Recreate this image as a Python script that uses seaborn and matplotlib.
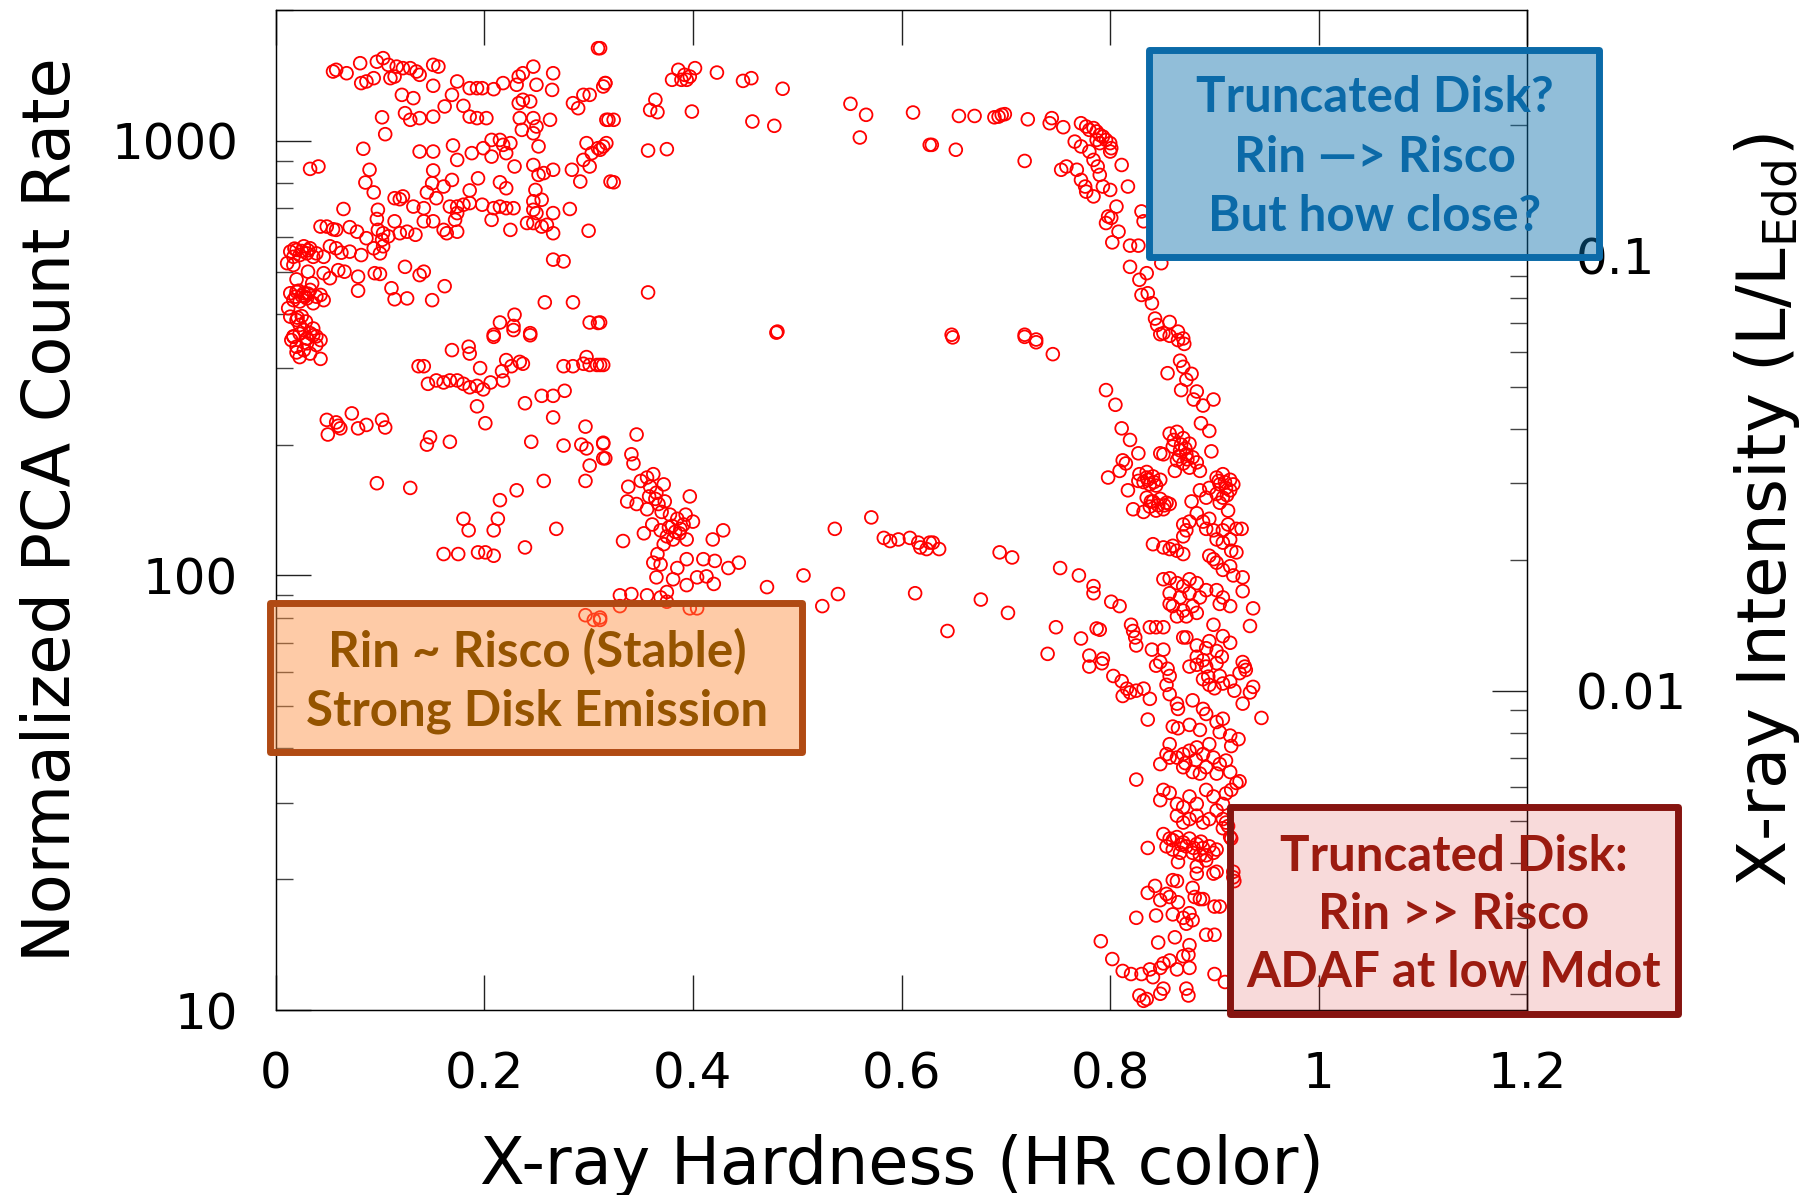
import numpy as np
import pandas as pd
import seaborn as sns
import matplotlib.pyplot as plt
from matplotlib.patches import Rectangle
from matplotlib.ticker import FixedLocator, LogLocator, NullFormatter

sns.set_style("white")
plt.rcParams['font.family'] = ['DejaVu Sans']
plt.rcParams['mathtext.fontset'] = 'dejavusans'
plt.rcParams['text.color'] = 'black'
plt.rcParams['axes.labelcolor'] = 'black'
plt.rcParams['xtick.labelcolor'] = 'black'
plt.rcParams['ytick.labelcolor'] = 'black'

# (hardness ratio, normalized PCA count rate)
soft_top = [
    (0.055, 1444), (0.058, 1457), (0.068, 1431), (0.081, 1509), (0.082, 1358), (0.087, 1370),
    (0.094, 1394), (0.097, 1521), (0.103, 1550), (0.108, 1496), (0.110, 1394), (0.114, 1406),
    (0.116, 1482), (0.122, 1470), (0.129, 1470), (0.135, 1444), (0.138, 1419), (0.151, 1496),
    (0.156, 1482), (0.151, 1339), (0.169, 1276), (0.174, 1370), (0.186, 1322), (0.193, 1322),
    (0.198, 1322), (0.209, 1315), (0.218, 1358), (0.231, 1346), (0.233, 1406), (0.237, 1431),
    (0.247, 1482), (0.250, 1346), (0.266, 1431), (0.265, 1310), (0.309, 1634), (0.316, 1358),
    (0.295, 1276), (0.301, 1276), (0.285, 1221), (0.290, 1189), (0.317, 1118), (0.121, 1276),
    (0.132, 1254), (0.124, 1158), (0.129, 1118), (0.138, 1128), (0.151, 1137), (0.102, 1133),
    (0.105, 1036), (0.162, 1200), (0.180, 1204), (0.186, 1137), (0.193, 1128), (0.202, 1128),
    (0.233, 1221), (0.237, 1243), (0.244, 1232), (0.234, 1128), (0.247, 1128), (0.250, 1079),
    (0.263, 1118), (0.236, 1060), (0.247, 1041), (0.252, 971), (0.084, 959), (0.138, 945),
    (0.151, 945), (0.170, 976), (0.174, 904), (0.188, 937), (0.199, 962), (0.207, 1005),
    (0.215, 1005), (0.218, 979), (0.225, 988), (0.207, 920), (0.221, 937), (0.033, 862),
    (0.041, 873), (0.090, 858), (0.086, 802), (0.094, 761), (0.151, 855), (0.150, 799),
    (0.161, 785), (0.169, 813), (0.186, 769), (0.194, 820), (0.215, 803), (0.221, 778),
    (0.229, 873), (0.247, 880), (0.252, 835), (0.257, 843), (0.266, 858), (0.284, 858),
    (0.292, 806), (0.295, 904), (0.298, 988), (0.303, 937), (0.309, 962), (0.314, 971),
    (0.301, 873), (0.321, 806),
]

soft_mid = [
    (0.114, 738), (0.119, 734), (0.122, 745), (0.132, 706), (0.142, 700), (0.145, 761),
    (0.154, 738), (0.167, 706), (0.174, 706), (0.180, 713), (0.186, 719), (0.198, 713),
    (0.209, 700), (0.215, 706), (0.221, 700), (0.228, 700), (0.249, 771), (0.247, 726),
    (0.255, 732), (0.247, 694), (0.250, 682), (0.266, 682), (0.282, 697), (0.065, 697),
    (0.098, 694), (0.043, 635), (0.049, 635), (0.055, 626), (0.058, 624), (0.071, 633),
    (0.078, 618), (0.087, 597), (0.097, 661), (0.098, 624), (0.103, 613), (0.108, 603),
    (0.114, 653), (0.119, 613), (0.126, 618), (0.134, 608), (0.142, 653), (0.151, 653),
    (0.161, 624), (0.164, 613), (0.174, 618), (0.172, 658), (0.174, 682), (0.207, 658),
    (0.225, 624), (0.241, 647), (0.247, 647), (0.255, 635), (0.260, 641), (0.266, 613),
    (0.300, 621), (0.046, 541), (0.052, 572), (0.058, 566), (0.063, 553), (0.071, 556),
    (0.082, 546), (0.094, 566), (0.100, 551), (0.102, 592), (0.103, 572), (0.031, 500),
    (0.046, 496), (0.052, 483), (0.060, 504), (0.066, 500), (0.079, 487), (0.079, 452),
    (0.095, 496), (0.100, 494), (0.111, 458), (0.114, 432), (0.124, 513), (0.126, 434),
    (0.138, 491), (0.142, 500), (0.150, 430), (0.162, 463), (0.266, 533), (0.276, 528),
    (0.258, 425), (0.285, 425), (0.215, 382), (0.229, 398), (0.228, 375), (0.244, 361),
    (0.209, 358), (0.301, 382), (0.309, 381),
]

soft_edge = [
    (0.014, 556), (0.020, 561), (0.027, 572), (0.033, 566), (0.039, 551), (0.017, 541),
    (0.023, 546), (0.030, 551), (0.036, 541), (0.011, 523), (0.017, 518), (0.020, 480),
    (0.035, 470), (0.014, 446), (0.020, 450), (0.027, 446), (0.033, 454), (0.039, 438),
    (0.017, 430), (0.023, 427), (0.030, 434), (0.036, 423), (0.043, 442), (0.046, 430),
    (0.012, 412), (0.025, 440), (0.031, 445), (0.014, 394), (0.020, 387), (0.027, 367),
    (0.033, 361), (0.039, 355), (0.017, 355), (0.023, 377), (0.030, 351), (0.036, 370),
    (0.025, 395), (0.015, 348), (0.017, 354), (0.020, 336), (0.023, 360), (0.027, 330),
    (0.030, 351), (0.033, 324), (0.036, 357), (0.039, 339), (0.043, 315), (0.023, 318),
    (0.030, 342), (0.043, 348), (0.020, 326), (0.018, 565), (0.025, 558), (0.031, 560),
    (0.022, 452), (0.028, 438), (0.019, 438), (0.021, 392), (0.029, 384),
]

soft_low = [
    (0.209, 354), (0.228, 367), (0.244, 357), (0.169, 330), (0.185, 336), (0.186, 324),
    (0.137, 303), (0.142, 303), (0.146, 276), (0.154, 281), (0.161, 278), (0.167, 281),
    (0.174, 281), (0.180, 276), (0.186, 271), (0.193, 273), (0.199, 268), (0.206, 278),
    (0.196, 300), (0.217, 295), (0.221, 313), (0.226, 303), (0.234, 310), (0.237, 307),
    (0.218, 281), (0.276, 303), (0.285, 303), (0.298, 318), (0.295, 307), (0.301, 305),
    (0.308, 305), (0.314, 305), (0.193, 245), (0.201, 224), (0.239, 249), (0.255, 259),
    (0.266, 259), (0.277, 266), (0.266, 231), (0.297, 220), (0.314, 202), (0.314, 186),
    (0.293, 200), (0.298, 196), (0.301, 179), (0.276, 199), (0.245, 203), (0.297, 165),
    (0.257, 165), (0.231, 157), (0.215, 149), (0.213, 135), (0.209, 127), (0.180, 135),
    (0.185, 127), (0.269, 128), (0.239, 116), (0.161, 112), (0.175, 112), (0.194, 113),
    (0.201, 113), (0.209, 111), (0.097, 163), (0.129, 159), (0.145, 200), (0.148, 208),
    (0.167, 203), (0.049, 228), (0.058, 225), (0.062, 218), (0.073, 236), (0.079, 218),
    (0.087, 222), (0.102, 228), (0.105, 219), (0.050, 211), (0.060, 221), (0.297, 81),
    (0.305, 79), (0.311, 79),
]

upper_arc = [
    (0.311, 1634), (0.316, 1358), (0.314, 1334), (0.319, 1118), (0.324, 1118), (0.317, 988),
    (0.311, 954), (0.324, 803), (0.364, 1243), (0.359, 1178), (0.366, 1164), (0.357, 950),
    (0.375, 957), (0.399, 1168), (0.386, 1457), (0.380, 1382), (0.389, 1382), (0.394, 1382),
    (0.397, 1406), (0.402, 1470), (0.392, 1419), (0.423, 1436), (0.448, 1374), (0.456, 1394),
    (0.486, 1318), (0.457, 1108), (0.478, 1083), (0.551, 1217), (0.566, 1148), (0.560, 1018),
    (0.611, 1162), (0.627, 979), (0.357, 448), (0.311, 382), (0.481, 364), (0.655, 1141),
    (0.670, 1141), (0.689, 1133), (0.693, 1137), (0.696, 1148), (0.699, 1152), (0.721, 1121),
    (0.629, 979), (0.652, 954), (0.718, 899), (0.744, 1128), (0.742, 1098), (0.755, 1075),
    (0.772, 1098), (0.777, 1079), (0.780, 1060), (0.784, 1070), (0.787, 1051), (0.790, 1032),
    (0.793, 1023), (0.796, 1005), (0.800, 988), (0.801, 962), (0.787, 1005), (0.790, 988),
    (0.766, 996), (0.772, 971), (0.780, 945), (0.784, 904), (0.788, 873), (0.800, 945),
    (0.811, 880), (0.753, 858), (0.758, 873), (0.768, 858), (0.772, 813), (0.776, 785),
    (0.777, 764), (0.784, 745), (0.790, 835), (0.793, 785), (0.800, 771), (0.817, 785),
    (0.806, 706), (0.798, 670), (0.801, 665), (0.796, 647), (0.808, 618), (0.802, 584),
    (0.819, 574), (0.827, 574), (0.830, 688), (0.832, 653), (0.849, 523), (0.819, 513),
    (0.828, 479), (0.835, 496), (0.836, 446), (0.830, 442), (0.840, 423), (0.843, 390),
    (0.845, 377), (0.857, 383), (0.851, 361), (0.865, 364), (0.870, 351), (0.648, 358),
    (0.718, 358), (0.729, 349),
]

transition = [
    (0.311, 305), (0.480, 362), (0.346, 211), (0.314, 201), (0.316, 186), (0.341, 190),
    (0.343, 181), (0.356, 168), (0.362, 171), (0.359, 160), (0.338, 160), (0.337, 148),
    (0.346, 146), (0.365, 155), (0.372, 162), (0.373, 148), (0.367, 146), (0.356, 142),
    (0.397, 152), (0.378, 138), (0.385, 135), (0.393, 138), (0.400, 133), (0.361, 131),
    (0.353, 125), (0.369, 127), (0.375, 123), (0.381, 121), (0.388, 128), (0.394, 121),
    (0.333, 120), (0.429, 127), (0.419, 121), (0.362, 107), (0.369, 106), (0.394, 109),
    (0.385, 104), (0.410, 109), (0.421, 108), (0.444, 107), (0.434, 104), (0.365, 99),
    (0.381, 98), (0.394, 95), (0.404, 99), (0.413, 99.5), (0.420, 95.6), (0.375, 91.6),
    (0.330, 90), (0.341, 90.6), (0.356, 90), (0.369, 89), (0.471, 94), (0.506, 100),
    (0.539, 90.6), (0.524, 85), (0.536, 128), (0.571, 136), (0.583, 122), (0.589, 120),
    (0.597, 121), (0.608, 122), (0.616, 119), (0.618, 116), (0.624, 115), (0.627, 119),
    (0.613, 91), (0.330, 85), (0.375, 87), (0.397, 84), (0.404, 84), (0.311, 80),
    (0.350, 165), (0.364, 150), (0.370, 140), (0.380, 130), (0.387, 125), (0.372, 118),
    (0.366, 112), (0.630, 119), (0.636, 115), (0.694, 113), (0.706, 110), (0.752, 104),
    (0.770, 100), (0.784, 94.5), (0.784, 91), (0.801, 87), (0.809, 85), (0.676, 88),
    (0.702, 82), (0.644, 74.5), (0.748, 76), (0.772, 71.6), (0.787, 75.5), (0.790, 75),
    (0.740, 66), (0.780, 65.4), (0.793, 64.3), (0.649, 353), (0.718, 354), (0.729, 344),
    (0.745, 323), (0.358, 152), (0.377, 129), (0.383, 126), (0.391, 131),
]

hard_upper = [
    (0.848, 359), (0.857, 356), (0.865, 348), (0.871, 341), (0.867, 312), (0.870, 302),
    (0.878, 291), (0.873, 282), (0.868, 267), (0.883, 265), (0.880, 254), (0.889, 246),
    (0.899, 254), (0.887, 224), (0.895, 215), (0.897, 193), (0.855, 292), (0.796, 267),
    (0.805, 247), (0.811, 218), (0.819, 205), (0.827, 191), (0.812, 184), (0.815, 181),
    (0.809, 174), (0.798, 168), (0.817, 157), (0.822, 142), (0.835, 173), (0.848, 191),
    (0.857, 212), (0.864, 214), (0.870, 207), (0.876, 201), (0.860, 198), (0.867, 194),
    (0.873, 190), (0.879, 187), (0.864, 184), (0.870, 181), (0.876, 177), (0.883, 182),
    (0.862, 174), (0.886, 174), (0.851, 190), (0.828, 171), (0.835, 168), (0.841, 169),
    (0.848, 166), (0.832, 164), (0.838, 162), (0.844, 161), (0.827, 165), (0.835, 151),
    (0.841, 148), (0.848, 150), (0.854, 147), (0.838, 144), (0.844, 141), (0.851, 142),
    (0.857, 146), (0.832, 140), (0.902, 168), (0.908, 171), (0.915, 166), (0.905, 162),
    (0.911, 159), (0.918, 162), (0.902, 154), (0.908, 151), (0.915, 157), (0.905, 147),
    (0.913, 141), (0.895, 159), (0.892, 151), (0.886, 157), (0.878, 148), (0.883, 139),
    (0.870, 131), (0.873, 127), (0.870, 123), (0.876, 133), (0.889, 133), (0.895, 135),
    (0.899, 127), (0.892, 128), (0.902, 121), (0.908, 127), (0.913, 131), (0.921, 128),
    (0.926, 128), (0.908, 119), (0.915, 121), (0.916, 114), (0.921, 113), (0.895, 111),
    (0.902, 107), (0.899, 109), (0.908, 103), (0.915, 105), (0.918, 100), (0.927, 99),
    (0.841, 118), (0.851, 116), (0.857, 115), (0.864, 114), (0.870, 112), (0.860, 117),
    (0.851, 98), (0.857, 98.5), (0.864, 96), (0.870, 94.5), (0.876, 98), (0.883, 96),
    (0.857, 91), (0.867, 89), (0.876, 91), (0.886, 89), (0.892, 92.5), (0.860, 85),
    (0.870, 83), (0.879, 85), (0.864, 80.5), (0.873, 80.5), (0.883, 82), (0.857, 86),
    (0.902, 92.5), (0.908, 89), (0.915, 85), (0.905, 86), (0.927, 92), (0.937, 84),
    (0.934, 76.5), (0.899, 77), (0.908, 72.5), (0.915, 70), (0.895, 70.6), (0.892, 68),
    (0.902, 67), (0.907, 65), (0.889, 63.8), (0.927, 63.2), (0.883, 65), (0.873, 72),
    (0.883, 69), (0.820, 77), (0.822, 74.5), (0.824, 72), (0.825, 69), (0.838, 76),
    (0.844, 76), (0.851, 76), (0.840, 67.5), (0.851, 67.5), (0.848, 63.2), (0.870, 72),
    (0.861, 205), (0.868, 200), (0.872, 196), (0.866, 188), (0.874, 185), (0.836, 166),
    (0.842, 164), (0.839, 148), (0.846, 145), (0.852, 145), (0.904, 165), (0.910, 164),
    (0.912, 153),
]

hard_lower = [
    (0.780, 61.7), (0.792, 62.8), (0.803, 58.7), (0.811, 57.1), (0.816, 54.9), (0.812, 52.8),
    (0.819, 53.8), (0.825, 54.3), (0.832, 54.9), (0.838, 52), (0.836, 46.6), (0.844, 62),
    (0.855, 61), (0.857, 58.7), (0.854, 56), (0.857, 53.3), (0.864, 50.7), (0.865, 49.3),
    (0.879, 51.6), (0.876, 61.7), (0.883, 62.3), (0.892, 61.7), (0.902, 62.8), (0.889, 57.7),
    (0.895, 56), (0.905, 58.7), (0.908, 56.4), (0.915, 57), (0.919, 54.3), (0.924, 59.6),
    (0.929, 61.7), (0.934, 53.8), (0.937, 55.4), (0.927, 50.7), (0.945, 47), (0.889, 49.3),
    (0.892, 48), (0.902, 46), (0.905, 43.6), (0.908, 46.8), (0.915, 42.8), (0.916, 40.5),
    (0.923, 42), (0.860, 44.9), (0.865, 44.5), (0.876, 45.3), (0.886, 44.1), (0.857, 40.9),
    (0.854, 38.8), (0.848, 36.8), (0.857, 38.1), (0.864, 38.1), (0.870, 38.8), (0.876, 39.5),
    (0.883, 40.2), (0.889, 38.8), (0.895, 40.9), (0.899, 38.1), (0.905, 36.8), (0.911, 37.5),
    (0.915, 35.3), (0.921, 33.3), (0.924, 33.6), (0.916, 32.1), (0.870, 36.2), (0.879, 35.3),
    (0.886, 35), (0.892, 36.2), (0.902, 35), (0.825, 33.9), (0.851, 32.1), (0.848, 30.4),
    (0.857, 31.6), (0.864, 29.8), (0.870, 29.3), (0.876, 31), (0.883, 29.8), (0.892, 32.1),
    (0.899, 31), (0.902, 28.8), (0.908, 29.8), (0.911, 31.5), (0.864, 28), (0.870, 27),
    (0.876, 27.5), (0.883, 28), (0.889, 27), (0.895, 27.5), (0.908, 27.5), (0.913, 26.5),
    (0.916, 24.8), (0.908, 26.2), (0.930, 60.6), (0.851, 25.4), (0.857, 24.8), (0.864, 25.0),
    (0.870, 24.3), (0.876, 24.8), (0.883, 24.1), (0.889, 23.6), (0.895, 23.8), (0.902, 23.4),
    (0.854, 23.8), (0.860, 23.4), (0.867, 23.0), (0.873, 23.8), (0.879, 23.0), (0.886, 22.7),
    (0.892, 22.7), (0.899, 23.0), (0.836, 23.6), (0.865, 21.9), (0.883, 21.4), (0.892, 22.1),
    (0.899, 20.6), (0.902, 20.8), (0.918, 20.8), (0.919, 19.8), (0.911, 27), (0.860, 19.9),
    (0.864, 19.8), (0.883, 20.6), (0.879, 19.1), (0.881, 18.2), (0.886, 18.0), (0.889, 18.0),
    (0.836, 18.6), (0.843, 19.3), (0.848, 17.9), (0.854, 18.5), (0.857, 18.2), (0.865, 17.7),
    (0.844, 16.5), (0.825, 16.3), (0.860, 16.6), (0.870, 16.3), (0.876, 16.7), (0.879, 16.1),
    (0.873, 15.8), (0.900, 17.3), (0.905, 17.3), (0.892, 14.9), (0.900, 14.9), (0.791, 14.4),
    (0.802, 13.1), (0.812, 12.3), (0.820, 12.1), (0.830, 12.1), (0.838, 12.4), (0.841, 11.9),
    (0.848, 12.5), (0.851, 12.8), (0.857, 13.0), (0.864, 12.4), (0.870, 13.3), (0.875, 13.4),
    (0.876, 12.5), (0.862, 14.7), (0.846, 14.3), (0.876, 14.1), (0.873, 11.2), (0.875, 10.8),
    (0.851, 11.2), (0.848, 10.9), (0.828, 10.8), (0.835, 10.6), (0.832, 10.5), (0.900, 12.1),
    (0.910, 11.6), (0.915, 25), (0.918, 20.2), (0.860, 24.6), (0.868, 24.0), (0.880, 23.6),
    (0.887, 24.4), (0.872, 37.0), (0.882, 37.6), (0.894, 58.5), (0.900, 55.0),
]

x_ticks = [0, 0.2, 0.4, 0.6, 0.8, 1.0, 1.2]
x_ticklabels = ['0', '0.2', '0.4', '0.6', '0.8', '1', '1.2']
y_ticks = [10, 100, 1000]
y_ticklabels = ['10', '100', '1000']
edd_ticks = [0.01, 0.1]
edd_ticklabels = ['0.01', '0.1']
edd_per_count = 1.84e-4  # L/LEdd per normalized count

groups = {
    'soft_top': soft_top, 'soft_mid': soft_mid, 'soft_edge': soft_edge,
    'soft_low': soft_low, 'upper_arc': upper_arc, 'transition': transition,
    'hard_upper': hard_upper, 'hard_lower': hard_lower,
}
frames = []
for name, pts in groups.items():
    arr = np.array(pts, dtype=float)
    frames.append(pd.DataFrame({'HR': arr[:, 0], 'Rate': arr[:, 1], 'Branch': name}))
df = pd.concat(frames, ignore_index=True)

fig = plt.figure(figsize=(18.1, 11.95), dpi=100)
ax = fig.add_axes([0.1523, 0.1548, 0.6916, 0.8368])

sns.scatterplot(data=df, x='HR', y='Rate', ax=ax, marker='o', s=84,
                facecolor='none', edgecolor='#ff0000', linewidth=1.3, legend=False)

ax.set_yscale('log')
ax.set_xlim(0, 1.2)
ax.set_ylim(10, 2000)
ax.set_xticks(x_ticks)
ax.set_xticklabels(x_ticklabels)
ax.yaxis.set_major_locator(FixedLocator(y_ticks))
ax.set_yticklabels(y_ticklabels)
ax.yaxis.set_minor_locator(LogLocator(base=10, subs=np.arange(2, 10)))
ax.yaxis.set_minor_formatter(NullFormatter())
ax.tick_params(axis='x', which='major', direction='in', length=25, width=1,
               color='#222222', top=True, bottom=True, labelsize=36, pad=29)
ax.tick_params(axis='y', which='major', direction='in', length=25, width=1,
               color='#222222', left=True, right=False, labelsize=36, pad=27)
ax.tick_params(axis='y', which='minor', direction='in', length=12, width=1,
               color='#444444', left=True, right=False)
for sp in ax.spines.values():
    sp.set_color('black')
    sp.set_linewidth(0.9)

ax.set_xlabel('X-ray Hardness (HR color)', fontsize=47)
ax.xaxis.set_label_coords(0.5, -0.124)
ax.set_ylabel('Normalized PCA Count Rate', fontsize=47)
ax.yaxis.set_label_coords(-0.153, 0.5)

# right axis: Eddington-scaled luminosity
ax2 = ax.twinx()
ax2.set_yscale('log')
ax2.set_ylim(10 * edd_per_count, 2000 * edd_per_count)
ax2.yaxis.set_major_locator(FixedLocator(edd_ticks))
ax2.set_yticklabels(edd_ticklabels)
ax2.yaxis.set_minor_locator(LogLocator(base=10, subs=np.arange(2, 10)))
ax2.yaxis.set_minor_formatter(NullFormatter())
ax2.tick_params(axis='y', which='major', direction='in', length=25, width=1,
                color='#222222', labelsize=36, pad=35)
ax2.tick_params(axis='y', which='minor', direction='in', length=12, width=1, color='#444444')
for sp in ax2.spines.values():
    sp.set_color('black')
    sp.set_linewidth(0.9)
ax2.set_ylabel(r'X-ray Intensity (L/L$_{\mathrm{Edd}}$)', fontsize=48.5)
ax2.yaxis.set_label_coords(1.163, 0.5)

# annotation boxes
boxes = [
    ((0.698, 0.7535), 0.3595, 0.207, (11/255, 111/255, 171/255, 0.45), '#0b6aa8'),
    ((-0.0042, 0.2585), 0.425, 0.149, (253/255, 141/255, 60/255, 0.45), '#b04a13'),
    ((0.762, -0.0035), 0.3586, 0.207, (214/255, 39/255, 40/255, 0.17), '#861410'),
]
for xy, w, h, fc, ec in boxes:
    ax2.add_patch(Rectangle(xy, w, h, transform=ax2.transAxes, clip_on=False,
                            facecolor=fc, edgecolor=ec, linewidth=5,
                            joinstyle='round', zorder=5))

notes = [
    (0.878, [0.898, 0.838, 0.779], ['Truncated Disk?', 'Rin \u2014> Risco', 'But how close?'], '#0b6aa8'),
    (0.2087, [0.343, 0.285], ['Rin ~ Risco (Stable)', 'Strong Disk Emission'], '#955400'),
    (0.9413, [0.139, 0.081, 0.023], ['Truncated Disk:', 'Rin >> Risco', 'ADAF at low Mdot'], '#9b1b10'),
]
for xc, ys, lines, col in notes:
    for yb, line in zip(ys, lines):
        ax2.text(xc, yb, line, transform=ax2.transAxes, ha='center', va='baseline',
                 fontsize=35.5, fontweight='bold', family=['Lato', 'DejaVu Sans'],
                 color=col, zorder=6, clip_on=False)

fig.savefig('out.png', dpi=100)
plt.close(fig)
